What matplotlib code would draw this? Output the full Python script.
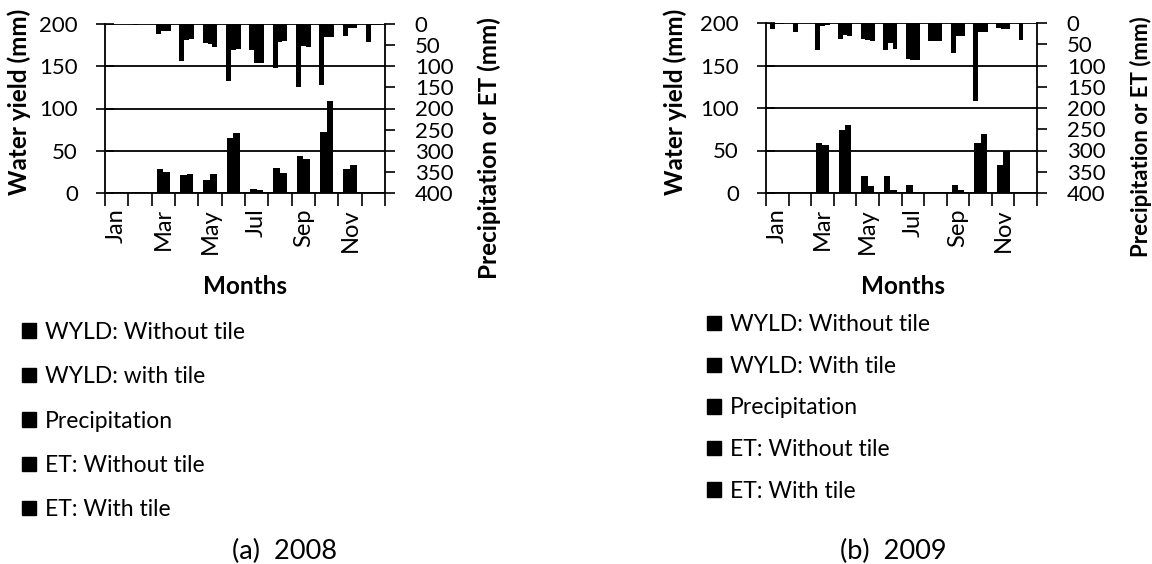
import matplotlib
matplotlib.use("Agg")
import matplotlib.pyplot as plt
from matplotlib.patches import Patch
import numpy as np

plt.rcParams['font.family'] = ['Lato', 'DejaVu Sans']

months = ["Jan", "Feb", "Mar", "Apr", "May", "Jun", "Jul", "Aug", "Sep", "Oct", "Nov", "Dec"]

# 2008
wyld_no_2008 = [0, 0, 28, 21, 15, 65, 5, 30, 44, 72, 28, 1]
wyld_tile_2008 = [0, 0, 25, 23, 22, 71, 4, 24, 40, 109, 33, 1]
precip_2008 = [2, 2, 24, 87, 46, 136, 62, 105, 148, 144, 28, 42]
et_no_2008 = [1, 1, 16, 38, 48, 62, 93, 42, 52, 30, 10, 2]
et_tile_2008 = [1, 1, 16, 36, 54, 60, 93, 40, 54, 30, 10, 2]

# 2009
wyld_no_2009 = [0, 0, 59, 74, 20, 20, 9, 0, 10, 59, 33, 0]
wyld_tile_2009 = [0, 0, 57, 80, 8, 4, 1, 0, 3, 69, 49, 0]
precip_2009 = [14, 20, 64, 38, 38, 64, 85, 43, 70, 184, 12, 39]
et_no_2009 = [2, 1, 6, 28, 40, 47, 86, 43, 30, 22, 13, 1]
et_tile_2009 = [2, 1, 5, 31, 43, 61, 86, 42, 31, 22, 14, 1]

legend_a = ["WYLD: Without tile", "WYLD: with tile", "Precipitation", "ET: Without tile", "ET: With tile"]
legend_b = ["WYLD: Without tile", "WYLD: With tile", "Precipitation", "ET: Without tile", "ET: With tile"]

W, H = 1152, 564
fig = plt.figure(figsize=(W / 100, H / 100), dpi=100)

TICK_FS = 16
MONTH_FS = 17
LAB_FS = 17.5
LEG_FS = 16.5
CAP_FS = 19.5


def px_rect(l, r, t, b):
    return [l / W, 1 - b / H, (r - l) / W, (b - t) / H]


def panel(rect, wno, wtile, pr, etn, ett, leg_labels, leg_xy, leg_sp, caption, cap_x,
          months_x, ylab_xy, ylab2_xy, lab2_fs):
    ax = fig.add_axes(rect)
    x = np.arange(len(months))
    bw = 0.285
    ax.bar(x - bw / 2, wno, bw, color='black', zorder=3)
    ax.bar(x + bw / 2, wtile, bw, color='black', zorder=3)
    ax.set_ylim(0, 200)
    ax.set_xlim(-0.5, 11.5)
    ax.set_yticks([0, 50, 100, 150, 200])
    ax.yaxis.grid(True, color='black', linewidth=1.3)
    ax.set_axisbelow(True)
    ax.set_xticks(x)
    ax.set_xticklabels([m if i % 2 == 0 else "" for i, m in enumerate(months)],
                       rotation=90, fontsize=MONTH_FS)
    ax.set_xticks(np.arange(-0.5, 12, 1), minor=True)
    ax.tick_params(axis='x', which='major', length=0, pad=11)
    ax.tick_params(axis='x', which='minor', direction='out', length=9, width=1.2)
    ax.tick_params(axis='y', direction='inout', length=13, width=1.2, labelsize=TICK_FS, pad=13)
    for s in ['top', 'right']:
        ax.spines[s].set_visible(False)
    for s in ['left', 'bottom']:
        ax.spines[s].set_linewidth(1.3)

    ax2 = ax.twinx()
    bw2 = 0.21
    ax2.bar(x - bw2, pr, bw2, color='black', zorder=3)
    ax2.bar(x, etn, bw2, color='black', zorder=3)
    ax2.bar(x + bw2, ett, bw2, color='black', zorder=3)
    ax2.set_ylim(400, 0)
    ax2.set_yticks(np.arange(0, 401, 50))
    ax2.tick_params(axis='y', direction='out', length=7, width=1.2, labelsize=TICK_FS, pad=14.5)
    for s in ['top', 'left', 'bottom']:
        ax2.spines[s].set_visible(False)
    ax2.spines['right'].set_linewidth(1.3)

    fig.text(ylab_xy[0] / W, 1 - ylab_xy[1] / H, "Water yield (mm)", rotation=90,
             ha='center', va='center', fontsize=LAB_FS, fontweight='bold')
    fig.text(ylab2_xy[0] / W, 1 - ylab2_xy[1] / H, "Precipitation or ET (mm)", rotation=90,
             ha='center', va='center', fontsize=lab2_fs, fontweight='bold')
    fig.text(months_x / W, 1 - 286 / H, "Months", ha='center', va='center',
             fontsize=LAB_FS, fontweight='bold')

    handles = [Patch(facecolor='black', edgecolor='black') for _ in leg_labels]
    fig.legend(handles, leg_labels, loc='center left',
               bbox_to_anchor=(leg_xy[0] / W, 1 - leg_xy[1] / H),
               frameon=False, fontsize=LEG_FS, handlelength=0.6, handleheight=0.6,
               handletextpad=0.4, labelspacing=leg_sp, borderpad=0, borderaxespad=0)
    fig.text(cap_x / W, 1 - 551 / H, caption, ha='center', va='center', fontsize=CAP_FS)
    return ax, ax2


panel(px_rect(105, 385, 24, 193), wyld_no_2008, wyld_tile_2008, precip_2008,
      et_no_2008, et_tile_2008, legend_a, (22, 421), 1.02, "(a)  2008", 285, 245,
      (19, 102), (489, 148), LAB_FS)
panel(px_rect(766, 1037, 23, 193), wyld_no_2009, wyld_tile_2009, precip_2009,
      et_no_2009, et_tile_2009, legend_b, (707, 408), 0.9, "(b)  2009", 893, 903,
      (675, 102), (1141, 137), 16)

fig.savefig("out.png", dpi=100)
